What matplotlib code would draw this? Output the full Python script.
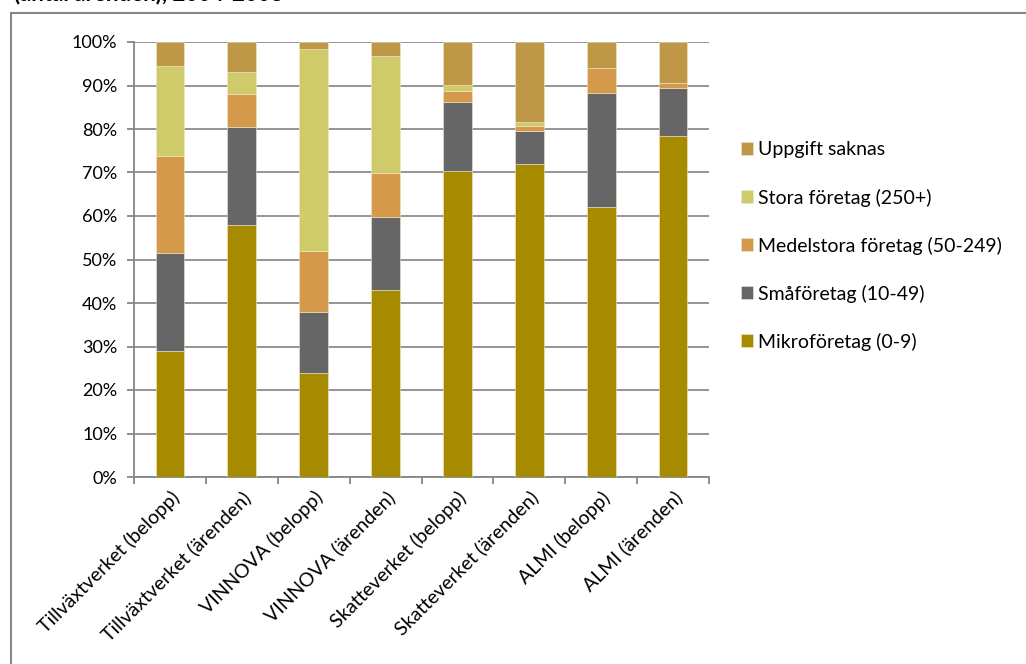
import matplotlib.pyplot as plt
import numpy as np
from matplotlib.patches import Rectangle

categories = [
    "Tillväxtverket (belopp)",
    "Tillväxtverket (ärenden)",
    "VINNOVA (belopp)",
    "VINNOVA (ärenden)",
    "Skatteverket (belopp)",
    "Skatteverket (ärenden)",
    "ALMI (belopp)",
    "ALMI (ärenden)",
]
series_names = [
    "Mikroföretag (0-9)",
    "Småföretag (10-49)",
    "Medelstora företag (50-249)",
    "Stora företag (250+)",
    "Uppgift saknas",
]
mikro = [29.0, 58.0, 24.0, 43.0, 70.4, 72.0, 62.0, 78.5]
sma = [22.5, 22.5, 14.0, 16.7, 15.8, 7.5, 26.2, 11.0]
medel = [22.3, 7.5, 14.0, 10.3, 2.6, 1.3, 5.9, 1.0]
stora = [20.7, 5.0, 46.5, 26.8, 1.4, 0.7, 0.0, 0.0]
saknas = [5.5, 7.0, 1.5, 3.2, 9.8, 18.5, 5.9, 9.5]
colors = ["#A68A00", "#666666", "#D4994A", "#CFCB6B", "#BF9847"]

plt.rcParams["font.family"] = ["Lato", "DejaVu Sans"]

W, H = 1026, 664
fig = plt.figure(figsize=(W / 100, H / 100), dpi=100)
ax = fig.add_axes([134 / W, 1 - 477 / H, 575 / W, 435 / H])

# outer chart border (runs off the right and bottom edges)
fig.patches.append(Rectangle((11 / W, -0.1), 1.2, 0.1 + 1 - 13 / H,
                             transform=fig.transFigure, fill=False,
                             edgecolor="#868686", lw=1.5, clip_on=False))

# title line above the chart, cut off by the top edge
fig.text(14 / W, 1 - 0.4 / H, "(antal ärenden), 2004-2008", fontsize=16,
         fontweight="bold", va="baseline", ha="left")

x = np.arange(len(categories))
data = [mikro, sma, medel, stora, saknas]
bottom = np.zeros(len(categories))
handles = []
for vals, name, col in zip(data, series_names, colors):
    vals = np.array(vals) / 100
    b = ax.bar(x, vals, 0.40, bottom=bottom, color=col, label=name,
               edgecolor="#f3e6c8", linewidth=0.4, zorder=3)
    handles.append(b)
    bottom += vals

ax.set_xlim(-0.5, len(categories) - 0.5)
ax.set_ylim(0, 1)
yt = np.arange(0, 1.01, 0.1)
ax.set_yticks(yt)
ax.set_yticklabels([f"{int(round(v * 100))}%" for v in yt], fontsize=13)
ax.yaxis.grid(True, color="#8c8c8c", lw=1.3, zorder=0)
ax.set_axisbelow(True)

ax.set_xticks(x)
ax.set_xticklabels(categories, rotation=45, ha="right", rotation_mode="anchor", fontsize=14)
ax.set_xticks(np.arange(-0.5, len(categories)), minor=True)
ax.tick_params(axis="x", which="major", length=0, pad=8)
ax.tick_params(axis="x", which="minor", length=5, color="#868686", width=1.3)
ax.tick_params(axis="y", length=5, color="#868686", width=1.3, pad=7)

for s in ["top", "right"]:
    ax.spines[s].set_visible(False)
for s in ["left", "bottom"]:
    ax.spines[s].set_color("#868686")
    ax.spines[s].set_linewidth(1.3)

fig.legend(handles[::-1], series_names[::-1], loc="upper left",
           bbox_to_anchor=(723.5 / W, 1 - 124 / H), frameon=False,
           fontsize=14, handlelength=0.62, handleheight=0.62,
           handletextpad=0.26, labelspacing=1.54)

fig.savefig("out.png", dpi=100)
